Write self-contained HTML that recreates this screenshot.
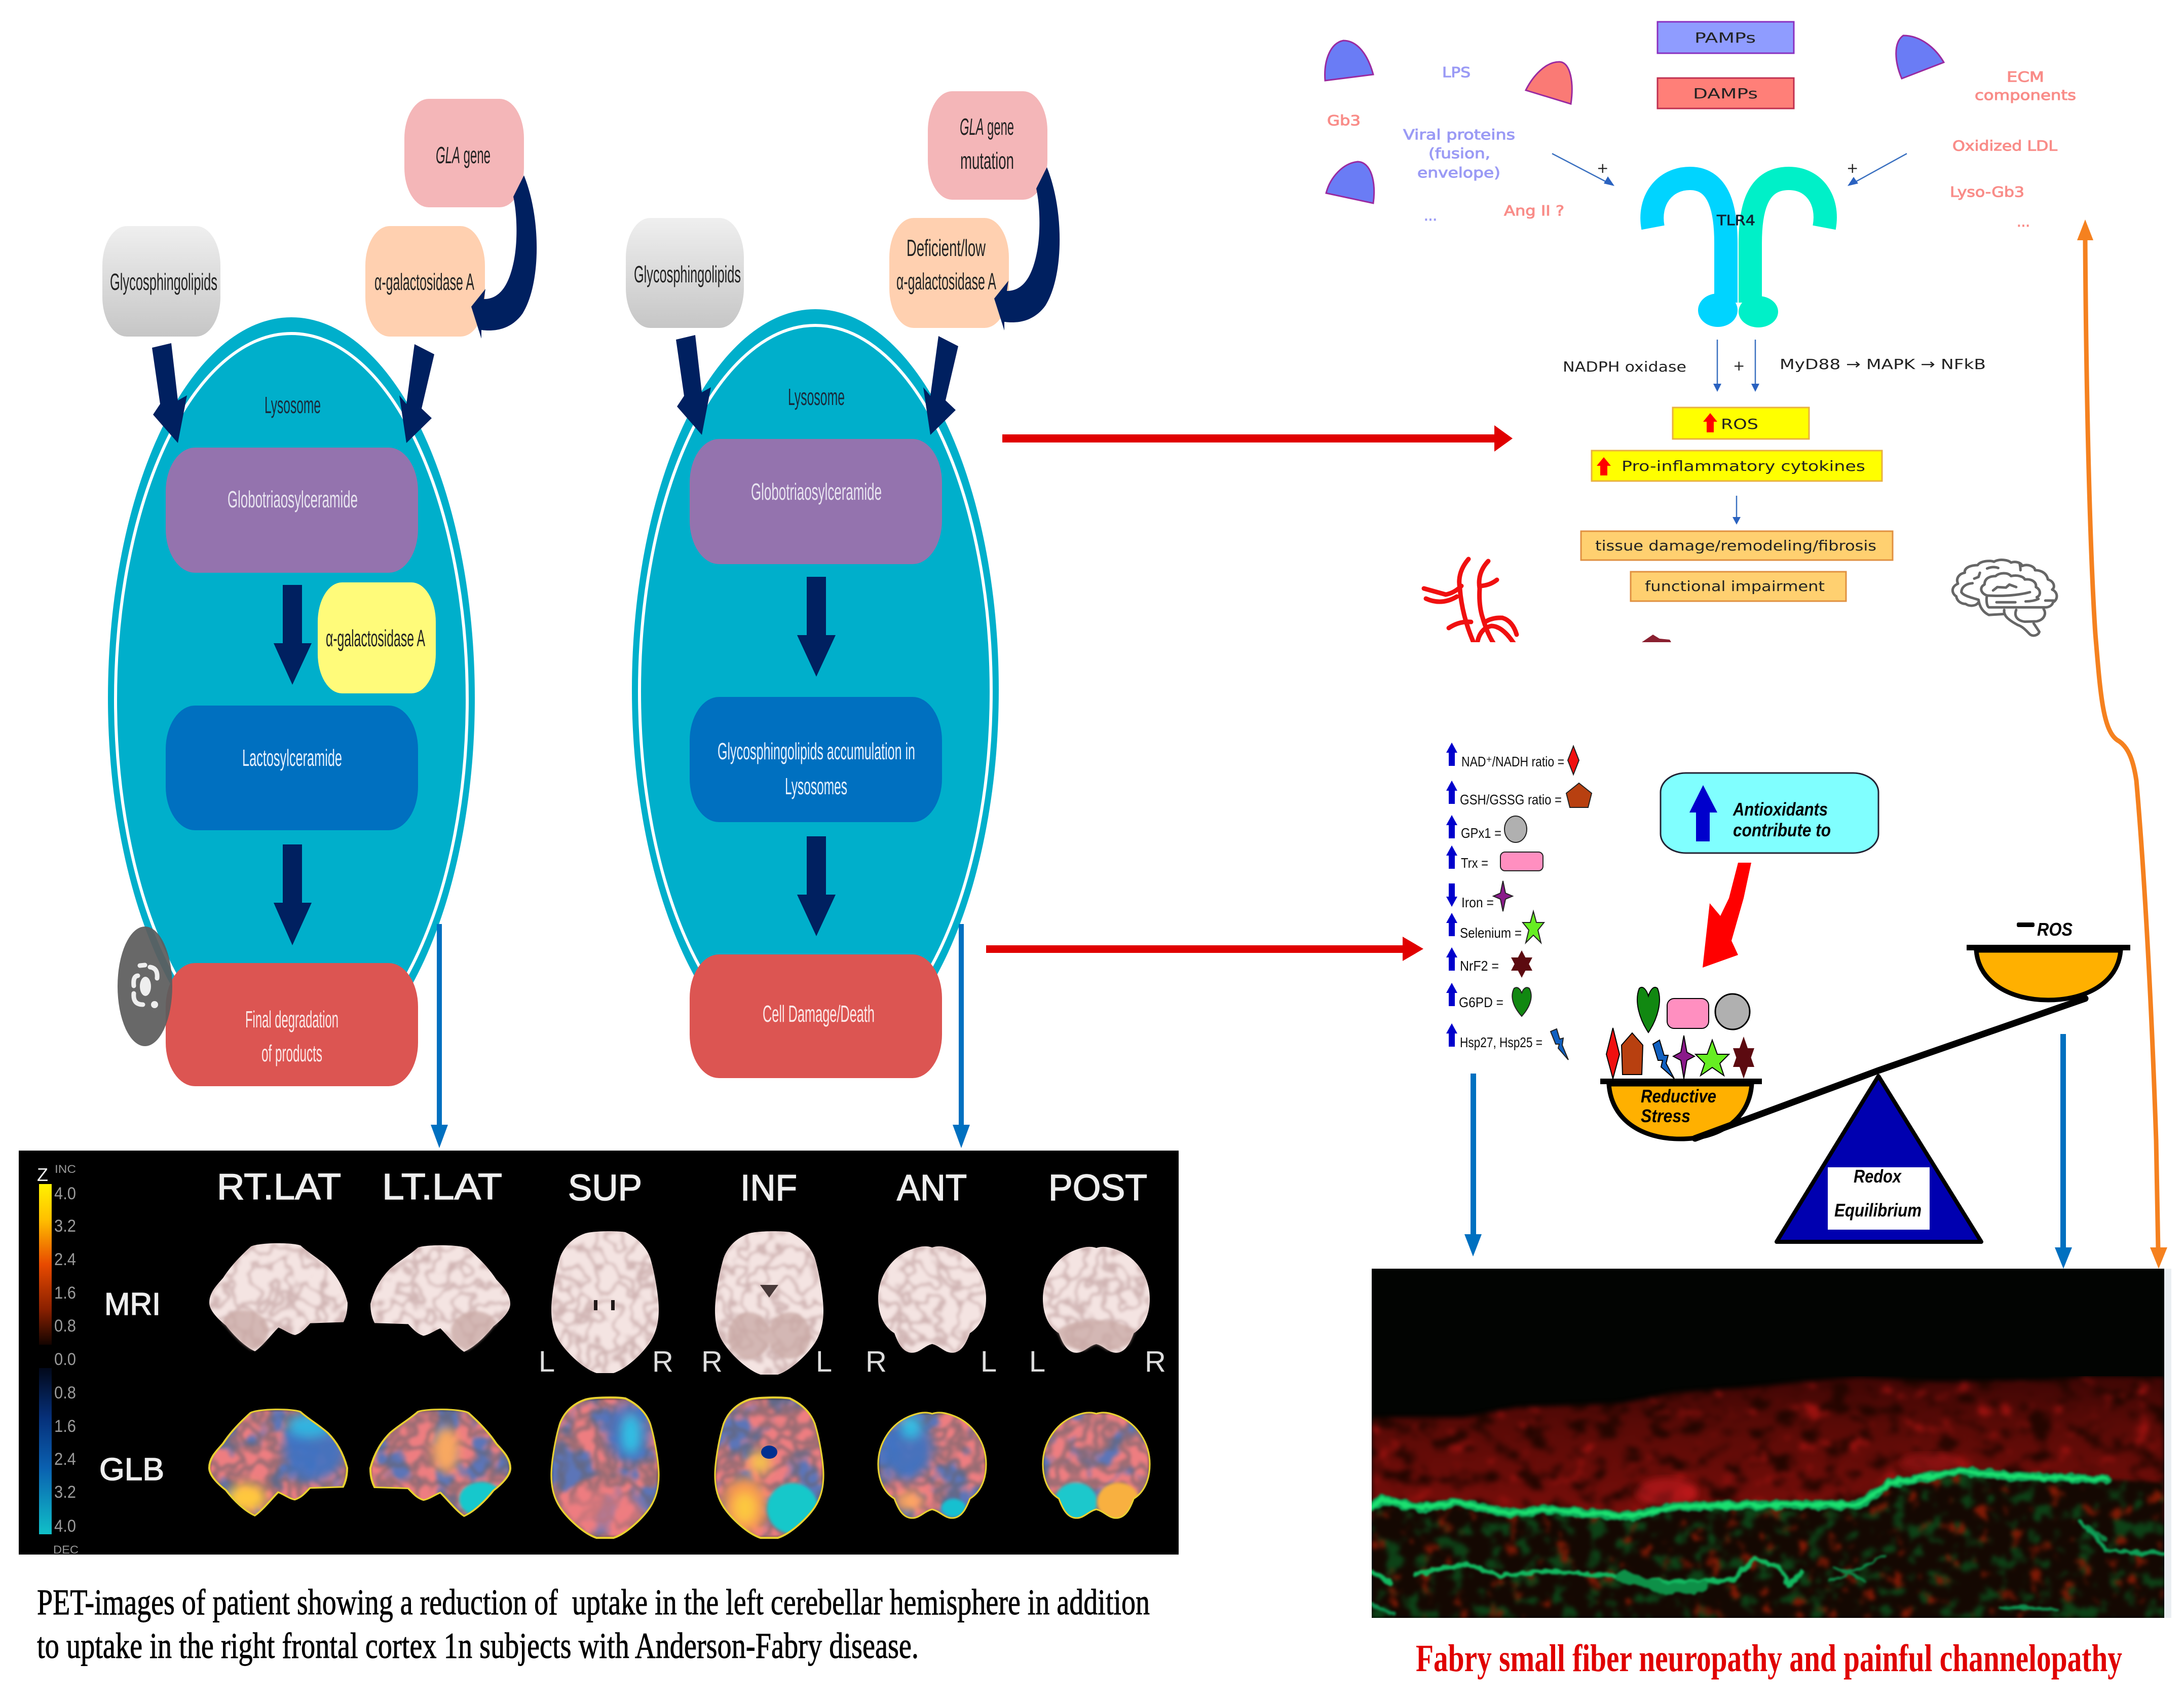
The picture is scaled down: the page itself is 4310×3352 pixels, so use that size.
<!DOCTYPE html>
<html><head><meta charset="utf-8"><title>Fabry disease diagram</title>
<style>
html,body{margin:0;padding:0;background:#fff}
svg{display:block}
.c{font-family:"Liberation Sans",sans-serif;font-size:46px}
.d{font-family:"DejaVu Sans",sans-serif;font-size:28px}
.a{font-family:"Liberation Sans",sans-serif;font-size:28px;fill:#111}
.bi{font-family:"Liberation Sans",sans-serif;font-weight:bold;font-style:italic;font-size:36px;fill:#000}
.p{font-family:"Liberation Sans",sans-serif;fill:#eee;font-size:72px;stroke:#eee;stroke-width:1.6}
.n{font-family:"Liberation Sans",sans-serif;fill:#9a9a9a;font-size:34px}
.lr{font-family:"Liberation Sans",sans-serif;fill:#ddd;font-size:58px;text-anchor:middle}
.s{font-family:"Liberation Serif",serif}
</style></head><body>
<svg xmlns="http://www.w3.org/2000/svg" width="4310" height="3352" viewBox="0 0 4310 3352">
<defs>
<linearGradient id="gray" x1="0" y1="0" x2="0" y2="1"><stop offset="0" stop-color="#efefef"/><stop offset="1" stop-color="#c6c6c6"/></linearGradient>
<linearGradient id="hot" x1="0" y1="0" x2="0" y2="1"><stop offset="0" stop-color="#fff200"/><stop offset=".22" stop-color="#ffc000"/><stop offset=".5" stop-color="#e84a00"/><stop offset=".78" stop-color="#8a2000"/><stop offset="1" stop-color="#140400"/></linearGradient>
<linearGradient id="cold" x1="0" y1="0" x2="0" y2="1"><stop offset="0" stop-color="#02081a"/><stop offset=".3" stop-color="#06307a"/><stop offset=".6" stop-color="#0a60b0"/><stop offset="1" stop-color="#10c0c8"/></linearGradient>
<linearGradient id="epi" x1="0" y1="2715" x2="0" y2="3000" gradientUnits="userSpaceOnUse"><stop offset="0" stop-color="#3e0604"/><stop offset=".35" stop-color="#5a0a06"/><stop offset="1" stop-color="#7a0e0a"/></linearGradient>
<path id="ua" d="M0,0 L11,20 L6,20 L6,46 L-6,46 L-6,20 L-11,20 Z" fill="#0000cc"/>
<path id="lat" d="M30,3 C36,-1 60,-1 66,2 C72,9 80,15 86,22 C92,30 97,40 100,55 C100,62 99,68 97,73 L73,74 C70,78 67,83 62,85 C58,84 54,80 50,78 C46,83 38,96 33,100 C26,96 18,86 12,76 C6,70 0,62 0,55 C0,45 6,38 10,32 C16,20 24,10 30,3 Z"/>
<path id="top" d="M31,1 C38,-1 62,-1 69,0 C80,4 88,10 92,18 C96,28 100,45 100,55 C100,65 97,72 92,78 C85,86 70,97 58,100 L42,100 C30,97 15,86 8,78 C3,72 0,65 0,55 C0,45 4,28 8,18 C12,10 20,4 31,1 Z"/>
<path id="cor" d="M50,1 C56,-1 62,0 70,3 C88,10 100,28 100,48 C100,62 95,74 85,80 C82,88 78,97 70,98 C62,99 58,92 50,90 C42,92 38,99 30,98 C22,97 18,88 15,80 C5,74 0,62 0,48 C0,28 12,10 30,3 C38,0 44,-1 50,1 Z"/>
<clipPath id="c1"><use href="#lat" transform="translate(413,2781) scale(2.72,2.09)"/></clipPath>
<clipPath id="c2"><use href="#lat" transform="translate(1007,2781) scale(-2.76,2.1)"/></clipPath>
<clipPath id="c3"><use href="#top" transform="translate(1088,2759) scale(2.12,2.75)"/></clipPath>
<clipPath id="c4"><use href="#top" transform="translate(1411,2759) scale(2.14,2.75)"/></clipPath>
<clipPath id="c5"><use href="#cor" transform="translate(1733,2787) scale(2.13,2.12)"/></clipPath>
<clipPath id="c6"><use href="#cor" transform="translate(2058,2787) scale(2.11,2.12)"/></clipPath>
<clipPath id="m1"><use href="#lat" transform="translate(413,2453) scale(2.73,2.13)"/></clipPath>
<clipPath id="m2"><use href="#lat" transform="translate(1007,2457) scale(-2.76,2.1)"/></clipPath>
<clipPath id="m4"><use href="#top" transform="translate(1411,2431) scale(2.14,2.81)"/></clipPath>
<clipPath id="m5"><use href="#cor" transform="translate(1733,2459) scale(2.13,2.14)"/></clipPath>
<clipPath id="m6"><use href="#cor" transform="translate(2058,2460) scale(2.11,2.13)"/></clipPath>
<clipPath id="sk"><rect x="2707" y="2503" width="1564" height="689"/></clipPath>
<clipPath id="vc"><rect x="2780" y="1090" width="240" height="177"/></clipPath>
<filter id="mri" x="0" y="0" width="100%" height="100%" color-interpolation-filters="sRGB">
<feTurbulence type="fractalNoise" baseFrequency="0.028" numOctaves="2" seed="5" result="n"/>
<feColorMatrix in="n" type="matrix" values="0 0 0 0 .66 0 0 0 0 .5 0 0 0 0 .5 1 0 0 0 0" result="a"/>
<feComponentTransfer in="a" result="b"><feFuncA type="table" tableValues="0 0 0 0 0 0 0 0 0 .2 .5 .2 0 0 0 0 0 0 0 0 0"/></feComponentTransfer>
<feGaussianBlur in="b" stdDeviation="2.8" result="c"/>
<feComposite in="c" in2="SourceAlpha" operator="in" result="t"/>
<feMerge><feMergeNode in="SourceGraphic"/><feMergeNode in="t"/></feMerge>
</filter>
<filter id="pet" x="0" y="0" width="100%" height="100%" color-interpolation-filters="sRGB">
<feTurbulence type="fractalNoise" baseFrequency="0.014" numOctaves="3" seed="9" result="n1"/>
<feColorMatrix in="n1" type="matrix" values="0 0 0 0 .36 0 0 0 0 .46 0 0 0 0 .72 7 0 0 0 -3.5" result="bl"/>
<feTurbulence type="fractalNoise" baseFrequency="0.028" numOctaves="2" seed="5" result="n2"/>
<feColorMatrix in="n2" type="matrix" values="0 0 0 0 .4 0 0 0 0 .38 0 0 0 0 .42 1 0 0 0 0" result="a"/>
<feComponentTransfer in="a" result="dk"><feFuncA type="table" tableValues="0 0 0 0 0 .35 .65 .35 0 0 0 0 0"/></feComponentTransfer>
<feMerge result="m"><feMergeNode in="SourceGraphic"/><feMergeNode in="bl"/><feMergeNode in="dk"/></feMerge>
<feComposite in="m" in2="SourceAlpha" operator="in" result="r"/>
<feGaussianBlur in="r" stdDeviation="3"/>
</filter>
<filter id="bl12" x="-40%" y="-40%" width="180%" height="180%"><feGaussianBlur stdDeviation="10"/></filter>
<filter id="bl4" x="-20%" y="-20%" width="140%" height="140%"><feGaussianBlur stdDeviation="3"/></filter>
<filter id="ep" x="0" y="0" width="100%" height="100%" color-interpolation-filters="sRGB">
<feTurbulence type="fractalNoise" baseFrequency="0.02 0.03" numOctaves="4" seed="12" result="n"/>
<feColorMatrix in="n" type="matrix" values="0 0 0 0 .62 0 0 0 0 .07 0 0 0 0 .06 5 0 0 0 -3.1" result="b"/>
<feColorMatrix in="n" type="matrix" values="0 0 0 0 .14 0 0 0 0 .02 0 0 0 0 0 0 5 0 0 -2.5" result="k"/>
<feMerge result="m"><feMergeNode in="SourceGraphic"/><feMergeNode in="k"/><feMergeNode in="b"/></feMerge>
<feComposite in="m" in2="SourceAlpha" operator="in" result="r"/>
<feGaussianBlur in="r" stdDeviation="5"/>
</filter>
<filter id="de" x="0" y="0" width="100%" height="100%" color-interpolation-filters="sRGB">
<feTurbulence type="fractalNoise" baseFrequency="0.03" numOctaves="4" seed="3" result="n"/>
<feColorMatrix in="n" type="matrix" values="0 0 0 0 .5 0 0 0 0 .1 0 0 0 0 .02 6 0 0 0 -3.7" result="b"/>
<feColorMatrix in="n" type="matrix" values="0 0 0 0 .05 0 0 0 0 .26 0 0 0 0 .09 0 6 0 0 -3.2" result="k"/>
<feMerge result="m"><feMergeNode in="SourceGraphic"/><feMergeNode in="k"/><feMergeNode in="b"/></feMerge>
<feComposite in="m" in2="SourceAlpha" operator="in" result="r"/>
<feGaussianBlur in="r" stdDeviation="4"/>
</filter>
<filter id="gl" x="-5%" y="-30%" width="110%" height="160%" color-interpolation-filters="sRGB">
<feTurbulence type="fractalNoise" baseFrequency="0.05" numOctaves="2" seed="8" result="n"/>
<feDisplacementMap in="SourceGraphic" in2="n" scale="14" xChannelSelector="R" yChannelSelector="G"/>
<feGaussianBlur stdDeviation="2"/>
</filter>
<filter id="soft" x="-10%" y="-10%" width="120%" height="120%"><feGaussianBlur stdDeviation="7"/></filter>
</defs>

<rect width="4310" height="3352" fill="#fff"/>

<!-- LEFT LYSOSOME -->
<ellipse cx="575" cy="1377" rx="362" ry="751" fill="#00afcb"/>
<ellipse cx="575" cy="1380" rx="347" ry="722" fill="none" stroke="#fff" stroke-width="6"/>
<rect x="798" y="195" width="236" height="214" rx="48" ry="78" fill="#f4b6b8"/>
<rect x="721" y="446" width="236" height="218" rx="48" ry="78" fill="#ffd0b0"/>
<rect x="202" y="446" width="233" height="218" rx="48" ry="78" fill="url(#gray)"/>
<rect x="327" y="883" width="498" height="247" rx="58" ry="86" fill="#9473ae"/>
<rect x="327" y="1392" width="498" height="246" rx="58" ry="86" fill="#0070c0"/>
<rect x="327" y="1900" width="498" height="243" rx="58" ry="86" fill="#dc5552"/>
<rect x="627" y="1149" width="233" height="219" rx="48" ry="78" fill="#fffb7a"/>
<text class="c" x="860" y="322" textLength="108" lengthAdjust="spacingAndGlyphs" fill="#222"><tspan font-style="italic">GLA</tspan> gene</text>
<text class="c" x="739" y="572" textLength="197" lengthAdjust="spacingAndGlyphs" fill="#222">α-galactosidase A</text>
<text class="c" x="217" y="572" textLength="212" lengthAdjust="spacingAndGlyphs" fill="#222">Glycosphingolipids</text>
<text class="c" x="522" y="815" textLength="111" lengthAdjust="spacingAndGlyphs" fill="#1a2a3a">Lysosome</text>
<text class="c" x="449" y="1001" textLength="257" lengthAdjust="spacingAndGlyphs" fill="#e8e4f0">Globotriaosylceramide</text>
<text class="c" x="643" y="1275" textLength="196" lengthAdjust="spacingAndGlyphs" fill="#222">α-galactosidase A</text>
<text class="c" x="478" y="1511" textLength="197" lengthAdjust="spacingAndGlyphs" fill="#e6f2ff">Lactosylceramide</text>
<text class="c" x="484" y="2027" textLength="184" lengthAdjust="spacingAndGlyphs" fill="#fbe8e8">Final degradation</text>
<text class="c" x="516" y="2094" textLength="120" lengthAdjust="spacingAndGlyphs" fill="#fbe8e8">of products</text>

<g fill="#002060">
<path d="M558,1154 H596 V1269 H615 L577,1351 L540,1269 H558 Z"/>
<path d="M558,1666 H596 V1781 H615 L577,1865 L540,1781 H558 Z"/>
<path id="al" d="M300,686 L338,677 L351,790 L369,780 L351,874 L302,818 L316,797 Z"/>
<path id="ar" d="M818,679 L857,699 L832,806 L852,825 L802,874 L788,780 L802,797 Z"/>
<path id="cv" d="M1034,346 C1068,430 1068,560 1031,619 C1010,648 980,655 950,651 L950,668 L930,605 L958,570 L955,590 C985,590 1005,565 1015,510 C1022,470 1020,420 1013,388 Z"/>
</g>
<ellipse cx="286" cy="1946" rx="54" ry="118" fill="#5c5c5c" opacity=".93"/>
<g fill="none" stroke="#eee" stroke-width="9" stroke-linecap="round">
<path d="M272,1925 Q262,1926 264,1945 M296,1908 Q312,1910 310,1930 M264,1960 Q262,1982 282,1982 M276,1905 L286,1904"/>
</g>
<ellipse cx="287" cy="1946" rx="11" ry="19" fill="#eee"/><circle cx="305" cy="1982" r="7" fill="#eee"/>

<!-- RIGHT LYSOSOME -->
<ellipse cx="1609" cy="1361" rx="362" ry="751" fill="#00afcb"/>
<ellipse cx="1609" cy="1364" rx="347" ry="722" fill="none" stroke="#fff" stroke-width="6"/>
<rect x="1831" y="180" width="236" height="214" rx="48" ry="78" fill="#f4b6b8"/>
<rect x="1755" y="430" width="236" height="217" rx="48" ry="78" fill="#ffd0b0"/>
<rect x="1235" y="430" width="233" height="217" rx="48" ry="78" fill="url(#gray)"/>
<rect x="1361" y="866" width="498" height="247" rx="58" ry="86" fill="#9473ae"/>
<rect x="1361" y="1375" width="498" height="247" rx="58" ry="86" fill="#0070c0"/>
<rect x="1361" y="1883" width="498" height="244" rx="58" ry="86" fill="#dc5552"/>
<text class="c" x="1894" y="266" textLength="107" lengthAdjust="spacingAndGlyphs" fill="#222"><tspan font-style="italic">GLA</tspan> gene</text>
<text class="c" x="1895" y="333" textLength="106" lengthAdjust="spacingAndGlyphs" fill="#222">mutation</text>
<text class="c" x="1789" y="505" textLength="156" lengthAdjust="spacingAndGlyphs" fill="#222">Deficient/low</text>
<text class="c" x="1769" y="571" textLength="197" lengthAdjust="spacingAndGlyphs" fill="#222">α-galactosidase A</text>
<text class="c" x="1251" y="557" textLength="211" lengthAdjust="spacingAndGlyphs" fill="#222">Glycosphingolipids</text>
<text class="c" x="1555" y="799" textLength="112" lengthAdjust="spacingAndGlyphs" fill="#1a2a3a">Lysosome</text>
<text class="c" x="1482" y="986" textLength="258" lengthAdjust="spacingAndGlyphs" fill="#e8e4f0">Globotriaosylceramide</text>
<text class="c" x="1416" y="1498" textLength="390" lengthAdjust="spacingAndGlyphs" fill="#e6f2ff">Glycosphingolipids accumulation in</text>
<text class="c" x="1549" y="1567" textLength="123" lengthAdjust="spacingAndGlyphs" fill="#e6f2ff">Lysosomes</text>
<text class="c" x="1505" y="2016" textLength="221" lengthAdjust="spacingAndGlyphs" fill="#fbe8e8">Cell Damage/Death</text>
<g fill="#002060">
<path d="M1592,1138 H1630 V1253 H1649 L1611,1335 L1573,1253 H1592 Z"/>
<path d="M1592,1650 H1630 V1765 H1649 L1611,1847 L1573,1765 H1592 Z"/>
<use href="#al" transform="translate(1034,-16)"/>
<use href="#ar" transform="translate(1034,-16)"/>
<use href="#cv" transform="translate(1032,-16)"/>
</g>

<!-- PET arrows -->
<g fill="#0070c0">
<rect x="862" y="1823" width="10" height="400"/><path d="M850,2219 H884 L867,2265 Z"/>
<rect x="1892" y="1823" width="10" height="400"/><path d="M1880,2219 H1914 L1897,2265 Z"/>
<rect x="2902" y="2118" width="11" height="320"/><path d="M2890,2435 H2924 L2907,2479 Z"/>
<rect x="4066" y="2040" width="11" height="425"/><path d="M4055,2461 H4089 L4072,2503 Z"/>
</g>

<!-- Red connectors -->
<g fill="#e00000">
<rect x="1978" y="857" width="975" height="16"/><path d="M2949,839 L2985,865 L2949,891 Z"/>
<rect x="1946" y="1865" width="825" height="15"/><path d="M2768,1848 L2809,1872 L2768,1896 Z"/>
</g>

<!-- Orange -->
<path d="M4115,470 C4117,800 4125,1100 4135,1250 C4145,1370 4150,1440 4178,1460 C4200,1472 4210,1500 4216,1540 C4230,1700 4245,1950 4255,2250 L4259,2465" fill="none" stroke="#f5811f" stroke-width="9"/>
<path d="M4115,433 L4131,474 H4099 Z" fill="#f5811f"/>
<path d="M4260,2503 L4243,2461 H4277 Z" fill="#f5811f"/>

<!-- TLR4 panel -->
<rect x="3271" y="43" width="269" height="62" fill="#8f9cff" stroke="#8a30c0" stroke-width="3"/>
<rect x="3271" y="154" width="269" height="60" fill="#ff7f78" stroke="#c03050" stroke-width="3"/>
<text class="d" x="3344" y="84" textLength="121" lengthAdjust="spacingAndGlyphs" font-size="30" fill="#222">PAMPs</text>
<text class="d" x="3341" y="194" textLength="128" lengthAdjust="spacingAndGlyphs" fill="#222">DAMPs</text>
<g stroke="#9a2aa0" stroke-width="3">
<path d="M2615,159 L2710,147 C2700,110 2680,80 2651,80 C2625,85 2612,120 2615,159 Z" fill="#6a7cf5"/>
<path d="M3011,178 L3100,205 C3106,165 3100,122 3077,122 C3050,122 3025,150 3011,178 Z" fill="#fa7a75"/>
<path d="M2617,381 L2710,401 C2716,360 2706,319 2679,319 C2650,322 2625,350 2617,381 Z" fill="#6a7cf5"/>
<path d="M3753,155 L3836,123 C3820,95 3790,70 3756,70 C3735,85 3740,125 3753,155 Z" fill="#6a7cf5"/>
</g>
<g class="d" fill="#9a9af5" stroke="#9a9af5" stroke-width="1">
<text x="2846" y="152" textLength="56" lengthAdjust="spacingAndGlyphs">LPS</text>
<text x="2769" y="275" textLength="221" lengthAdjust="spacingAndGlyphs">Viral proteins</text>
<text x="2819" y="312" textLength="122" lengthAdjust="spacingAndGlyphs">(fusion,</text>
<text x="2797" y="350" textLength="164" lengthAdjust="spacingAndGlyphs">envelope)</text>
<text x="2810" y="435" textLength="26" lengthAdjust="spacingAndGlyphs">...</text>
</g>
<g class="d" fill="#f98c88" stroke="#f98c88" stroke-width="1">
<text x="2619" y="247" textLength="66" lengthAdjust="spacingAndGlyphs">Gb3</text>
<text x="2968" y="425" textLength="119" lengthAdjust="spacingAndGlyphs">Ang II ?</text>
<text x="3960" y="161" textLength="74" lengthAdjust="spacingAndGlyphs">ECM</text>
<text x="3897" y="197" textLength="200" lengthAdjust="spacingAndGlyphs">components</text>
<text x="3853" y="297" textLength="207" lengthAdjust="spacingAndGlyphs">Oxidized LDL</text>
<text x="3848" y="388" textLength="147" lengthAdjust="spacingAndGlyphs">Lyso-Gb3</text>
<text x="3980" y="447" textLength="26" lengthAdjust="spacingAndGlyphs">...</text>
</g>
<g stroke="#3a70c0" stroke-width="2.5" fill="none">
<path d="M3063,303 L3180,364"/><path d="M3763,303 L3652,364"/>
<path d="M3389,670 V765"/><path d="M3464,670 V765"/><path d="M3427,978 V1028"/>
</g>
<g fill="#2a62c0">
<path d="M3186,367 L3165,362 L3173,348 Z"/><path d="M3646,367 L3658,349 L3667,362 Z"/>
<path d="M3389,773 L3381,757 H3397 Z"/><path d="M3464,773 L3456,757 H3472 Z"/><path d="M3427,1035 L3419,1020 H3435 Z"/>
</g>
<g class="d" fill="#222" font-size="26">
<text x="3151" y="341">+</text><text x="3644" y="341">+</text><text x="3420" y="731">+</text>
</g>
<path d="M3406,597 V480 C3406,420 3396,352 3335,352 C3285,352 3252,395 3262,449" fill="none" stroke="#00d4ff" stroke-width="46"/>
<path d="M3454,597 V480 C3454,420 3464,352 3530,352 C3580,352 3610,395 3600,449" fill="none" stroke="#00f0c8" stroke-width="46"/>
<ellipse cx="3390" cy="612" rx="39" ry="33" fill="#00d4ff"/>
<ellipse cx="3470" cy="615" rx="39" ry="31" fill="#00f0c8"/>
<text class="d" x="3388" y="444" textLength="76" lengthAdjust="spacingAndGlyphs" fill="#123" stroke="#123" stroke-width=".7">TLR4</text>
<text class="d" x="3084" y="733" textLength="244" lengthAdjust="spacingAndGlyphs" fill="#222">NADPH oxidase</text>
<text class="d" x="3512" y="728" textLength="407" lengthAdjust="spacingAndGlyphs" fill="#222">MyD88 → MAPK → NFkB</text>
<rect x="3301" y="804" width="269" height="62" fill="#ffff00" stroke="#e8b040" stroke-width="3"/>
<path d="M3375,815 L3389,832 H3382 V853 H3368 V832 H3361 Z" fill="#f00"/>
<text class="d" x="3396" y="846" textLength="74" lengthAdjust="spacingAndGlyphs" fill="#222">ROS</text>
<rect x="3141" y="889" width="573" height="60" fill="#ffff00" stroke="#e8b040" stroke-width="3"/>
<path d="M3165,902 L3179,919 H3172 V938 H3158 V919 H3151 Z" fill="#f00"/>
<text class="d" x="3200" y="929" textLength="481" lengthAdjust="spacingAndGlyphs" fill="#222">Pro-inflammatory cytokines</text>
<rect x="3120" y="1048" width="615" height="57" fill="#ffd070" stroke="#e09040" stroke-width="3"/>
<text class="d" x="3148" y="1086" textLength="555" lengthAdjust="spacingAndGlyphs" fill="#222">tissue damage/remodeling/fibrosis</text>
<rect x="3218" y="1128" width="425" height="58" fill="#ffd070" stroke="#e09040" stroke-width="3"/>
<text class="d" x="3246" y="1166" textLength="355" lengthAdjust="spacingAndGlyphs" fill="#222">functional impairment</text>
<g clip-path="url(#vc)" fill="none" stroke="#f01010" stroke-width="9" stroke-linecap="round">
<path d="M2898,1103 Q2875,1130 2881,1161 Q2885,1215 2909,1270"/>
<path d="M2937,1107 Q2915,1130 2920,1161 Q2918,1195 2926,1219 Q2935,1250 2948,1270"/>
<path d="M2810,1161 L2853,1173 Q2870,1170 2884,1156"/>
<path d="M2814,1181 Q2845,1195 2875,1177"/>
<path d="M2954,1144 Q2940,1155 2922,1156"/>
<path d="M2859,1239 Q2880,1225 2903,1227"/>
<path d="M2993,1252 Q2985,1225 2965,1219 Q2945,1218 2931,1227"/>
<path d="M2988,1270 Q2965,1235 2943,1235 Q2920,1240 2915,1270"/>
</g>
<path d="M3240,1267 L3262,1252 L3275,1260 L3295,1262 L3298,1267 Z" fill="#8a2030"/>
<g transform="translate(3820,1080) scale(.338,.333)" fill="none" stroke="#666" stroke-width="15" stroke-linecap="round" stroke-linejoin="round">
<path d="M250,325 C235,350 195,350 175,335 C150,335 125,320 120,290 C95,275 85,235 130,215 C115,180 140,155 170,150 C165,120 205,105 245,105 C260,80 320,75 340,85 C375,65 425,75 440,90 C465,80 500,90 505,110 C540,95 580,115 580,135 C625,135 650,160 655,190 C690,200 700,235 680,250 C715,265 715,310 685,325 C680,345 660,355 640,355 L310,355 C295,345 295,300 300,285"/>
<path d="M300,285 C260,270 255,235 285,220 C285,180 320,170 350,170 C370,150 420,145 440,170 C480,160 515,175 520,190 C560,185 590,205 585,235 C615,250 615,285 590,295"/>
<path d="M550,265 C480,285 380,290 300,285"/>
<path d="M335,255 L360,235 L410,238 L430,220 L470,235"/>
<path d="M355,325 H465"/><path d="M525,320 Q570,320 600,305"/><path d="M640,315 H690"/>
<path d="M225,185 L250,175 L258,150"/><path d="M300,125 Q335,110 365,122"/><path d="M490,95 Q495,115 495,135"/>
<path d="M215,212 C170,215 150,240 150,265 C160,285 200,295 250,310 C255,345 270,380 310,400 L395,395"/>
<path d="M400,370 C395,405 425,430 480,460 C510,470 530,495 550,515 C570,530 600,520 605,500 L572,450"/>
<path d="M470,370 C455,410 480,435 520,440 L590,438 C630,430 650,395 630,365"/>
</g>

<!-- Redox list -->
<use href="#ua" x="2865" y="1465"/><use href="#ua" x="2865" y="1540"/><use href="#ua" x="2865" y="1608"/><use href="#ua" x="2865" y="1668"/>
<use href="#ua" transform="translate(2865,1789) scale(1,-1)"/>
<use href="#ua" x="2865" y="1801"/><use href="#ua" x="2865" y="1869"/><use href="#ua" x="2865" y="1939"/><use href="#ua" x="2865" y="2019"/>
<text class="a" x="2884" y="1512" textLength="203" lengthAdjust="spacingAndGlyphs">NAD⁺/NADH ratio =</text>
<text class="a" x="2881" y="1587" textLength="201" lengthAdjust="spacingAndGlyphs">GSH/GSSG ratio =</text>
<text class="a" x="2883" y="1653" textLength="80" lengthAdjust="spacingAndGlyphs">GPx1 =</text>
<text class="a" x="2883" y="1712" textLength="54" lengthAdjust="spacingAndGlyphs">Trx =</text>
<text class="a" x="2884" y="1790" textLength="64" lengthAdjust="spacingAndGlyphs">Iron =</text>
<text class="a" x="2881" y="1850" textLength="122" lengthAdjust="spacingAndGlyphs">Selenium =</text>
<text class="a" x="2881" y="1915" textLength="77" lengthAdjust="spacingAndGlyphs">NrF2 =</text>
<text class="a" x="2879" y="1987" textLength="88" lengthAdjust="spacingAndGlyphs">G6PD =</text>
<text class="a" x="2881" y="2066" textLength="163" lengthAdjust="spacingAndGlyphs">Hsp27, Hsp25 =</text>
<g stroke="#222" stroke-width="2">
<path d="M3105,1472 L3116,1500 L3105,1528 L3094,1500 Z" fill="#f01010"/>
<path d="M3116,1545 L3141,1565 L3134,1593 L3098,1593 L3091,1565 Z" fill="#b84010"/>
<ellipse cx="2991" cy="1636" rx="22" ry="26" fill="#b0b0b0"/>
<rect x="2961" y="1681" width="84" height="37" rx="9" fill="#ff8fc0"/>
<path d="M2966,1738 L2971,1762 L2985,1768 L2971,1774 L2966,1798 L2961,1774 L2947,1768 L2961,1762 Z" fill="#8a1a8a"/>
<path d="M3026,1798 L3032,1820 L3047,1820 L3035,1835 L3041,1860 L3026,1845 L3011,1860 L3017,1835 L3005,1820 L3020,1820 Z" fill="#66ee22"/>
<path d="M3003,1875 L3024,1915 H2982 Z" fill="#5c0a10" stroke="none"/><path d="M3003,1929 L3024,1889 H2982 Z" fill="#5c0a10" stroke="none"/>
<path d="M3003,2005 C2985,1985 2980,1965 2988,1950 C2995,1945 3001,1952 3003,1960 C3005,1952 3011,1945 3018,1950 C3026,1965 3021,1985 3003,2005 Z" fill="#118811"/>
<path d="M3060,2035 L3072,2030 L3078,2050 L3085,2048 L3083,2062 L3095,2091 L3075,2068 L3077,2060 L3070,2060 Z" fill="#1060c0"/>
</g>

<!-- Antioxidants -->
<rect x="3277" y="1525" width="430" height="158" rx="50" ry="38" fill="#80ffff" stroke="#223" stroke-width="3"/>
<path d="M3361,1549 L3389,1603 H3374 V1660 H3347 V1603 H3334 Z" fill="#0000cc"/>
<text class="bi" x="3420" y="1609" textLength="187" lengthAdjust="spacingAndGlyphs">Antioxidants</text>
<text class="bi" x="3420" y="1650" textLength="193" lengthAdjust="spacingAndGlyphs">contribute to</text>
<path d="M3430,1702 L3456,1702 L3441,1772 L3417,1856 L3430,1884 L3360,1909 L3374,1782 L3395,1807 L3412,1772 Z" fill="#ff0000"/>

<!-- Scale -->
<g stroke="#000" stroke-width="2">
<path d="M3253,2037 C3235,2010 3225,1975 3235,1950 C3243,1943 3250,1955 3253,1965 C3256,1955 3263,1943 3271,1950 C3281,1975 3271,2010 3253,2037 Z" fill="#118811"/>
<rect x="3290" y="1970" width="82" height="59" rx="14" fill="#ff8fc0"/>
<ellipse cx="3419" cy="1996" rx="34" ry="35" fill="#b0b0b0" stroke-width="3"/>
<path d="M3183,2028 L3196,2080 L3183,2128 L3170,2080 Z" fill="#f01010"/>
<path d="M3221,2038 L3242,2062 L3240,2120 H3202 L3200,2062 Z" fill="#b84010"/>
<path d="M3262,2060 L3275,2052 L3284,2082 L3292,2082 L3288,2098 L3304,2128 L3278,2105 L3281,2092 L3272,2092 Z" fill="#1060c0"/>
<path d="M3323,2043 L3329,2076 L3344,2084 L3329,2092 L3323,2128 L3317,2092 L3302,2084 L3317,2076 Z" fill="#8a1a8a"/>
<path d="M3379,2052 L3389,2080 L3412,2080 L3394,2098 L3402,2122 L3379,2106 L3356,2122 L3364,2098 L3346,2080 L3369,2080 Z" fill="#66ee22"/>
<path d="M3441,2045 L3462,2105 H3420 Z" fill="#5c0a10" stroke="none"/><path d="M3441,2128 L3462,2068 H3420 Z" fill="#5c0a10" stroke="none"/>
</g>
<path d="M3175,2139 C3180,2210 3240,2247 3316,2247 C3392,2247 3452,2210 3457,2139 Z" fill="#ffb000" stroke="#000" stroke-width="9"/>
<rect x="3158" y="2128" width="319" height="11" fill="#000"/>
<text class="bi" x="3238" y="2175" textLength="149" lengthAdjust="spacingAndGlyphs">Reductive</text>
<text class="bi" x="3238" y="2214" textLength="98" lengthAdjust="spacingAndGlyphs">Stress</text>
<path d="M3900,1875 C3905,1940 3970,1973 4042,1973 C4115,1973 4180,1940 4185,1875 Z" fill="#ffb000" stroke="#000" stroke-width="9"/>
<rect x="3881" y="1864" width="323" height="11" fill="#000"/>
<path d="M3345,2246 L3707,2112 L4115,1970" fill="none" stroke="#000" stroke-width="13" stroke-linecap="round" stroke-linejoin="round"/>
<path d="M3707,2123 L3910,2450 H3506 Z" fill="#0000b0" stroke="#000" stroke-width="8" stroke-linejoin="round"/>
<rect x="3607" y="2303" width="201" height="123" fill="#fff"/>
<text class="bi" x="3658" y="2333" textLength="94" lengthAdjust="spacingAndGlyphs">Redox</text>
<text class="bi" x="3620" y="2400" textLength="172" lengthAdjust="spacingAndGlyphs">Equilibrium</text>
<rect x="3980" y="1820" width="35" height="9" rx="3" fill="#000"/>
<text class="bi" x="4020" y="1846" textLength="70" lengthAdjust="spacingAndGlyphs">ROS</text>

<!-- PET panel -->
<rect x="37" y="2270" width="2289" height="797" fill="#000"/>
<rect x="77" y="2336" width="25" height="317" fill="url(#hot)"/>
<rect x="77" y="2699" width="25" height="328" fill="url(#cold)"/>
<text x="73" y="2330" font-family="Liberation Sans" font-size="36" fill="#eee">Z</text>
<text x="108" y="2314" font-family="Liberation Sans" font-size="22" fill="#999" textLength="42" lengthAdjust="spacingAndGlyphs">INC</text>
<text x="105" y="3065" font-family="Liberation Sans" font-size="22" fill="#999" textLength="50" lengthAdjust="spacingAndGlyphs">DEC</text>
<g class="n">
<text x="107" y="2366" textLength="43" lengthAdjust="spacingAndGlyphs">4.0</text>
<text x="107" y="2430" textLength="43" lengthAdjust="spacingAndGlyphs">3.2</text>
<text x="107" y="2496" textLength="43" lengthAdjust="spacingAndGlyphs">2.4</text>
<text x="107" y="2562" textLength="43" lengthAdjust="spacingAndGlyphs">1.6</text>
<text x="107" y="2627" textLength="43" lengthAdjust="spacingAndGlyphs">0.8</text>
<text x="107" y="2693" textLength="43" lengthAdjust="spacingAndGlyphs">0.0</text>
<text x="107" y="2759" textLength="43" lengthAdjust="spacingAndGlyphs">0.8</text>
<text x="107" y="2825" textLength="43" lengthAdjust="spacingAndGlyphs">1.6</text>
<text x="107" y="2890" textLength="43" lengthAdjust="spacingAndGlyphs">2.4</text>
<text x="107" y="2955" textLength="43" lengthAdjust="spacingAndGlyphs">3.2</text>
<text x="107" y="3022" textLength="43" lengthAdjust="spacingAndGlyphs">4.0</text>
</g>
<g class="p">
<text x="428" y="2366" textLength="245" lengthAdjust="spacingAndGlyphs">RT.LAT</text>
<text x="754" y="2366" textLength="237" lengthAdjust="spacingAndGlyphs">LT.LAT</text>
<text x="1121" y="2368" textLength="146" lengthAdjust="spacingAndGlyphs">SUP</text>
<text x="1461" y="2368" textLength="112" lengthAdjust="spacingAndGlyphs">INF</text>
<text x="1770" y="2368" textLength="138" lengthAdjust="spacingAndGlyphs">ANT</text>
<text x="2069" y="2368" textLength="195" lengthAdjust="spacingAndGlyphs">POST</text>
<text x="206" y="2594" textLength="111" lengthAdjust="spacingAndGlyphs" font-size="62">MRI</text>
<text x="196" y="2920" textLength="128" lengthAdjust="spacingAndGlyphs" font-size="62">GLB</text>
</g>
<g class="lr">
<text x="1079" y="2706">L</text><text x="1308" y="2706">R</text>
<text x="1405" y="2706">R</text><text x="1626" y="2706">L</text>
<text x="1729" y="2706">R</text><text x="1951" y="2706">L</text>
<text x="2047" y="2706">L</text><text x="2280" y="2706">R</text>
</g>
<!-- MRI brains -->
<g fill="#f4e4e2">
<g filter="url(#mri)"><use href="#lat" transform="translate(413,2453) scale(2.73,2.13)"/></g>
<g filter="url(#mri)"><use href="#lat" transform="translate(1007,2457) scale(-2.76,2.1)"/></g>
<g filter="url(#mri)"><use href="#top" transform="translate(1088,2431) scale(2.12,2.78)"/></g>
<g filter="url(#mri)"><use href="#top" transform="translate(1411,2431) scale(2.14,2.81)"/></g>
<g filter="url(#mri)"><use href="#cor" transform="translate(1733,2459) scale(2.13,2.14)"/></g>
<g filter="url(#mri)"><use href="#cor" transform="translate(2058,2460) scale(2.11,2.13)"/></g>
</g>
<g fill="#c9a9a4" opacity=".75" filter="url(#bl4)">
<g clip-path="url(#m1)"><ellipse cx="482" cy="2625" rx="48" ry="40"/></g>
<g clip-path="url(#m2)"><ellipse cx="938" cy="2627" rx="48" ry="40"/></g>
<g clip-path="url(#m4)"><ellipse cx="1478" cy="2635" rx="42" ry="46"/><ellipse cx="1558" cy="2635" rx="42" ry="46"/></g>
<g clip-path="url(#m6)"><ellipse cx="2163" cy="2635" rx="80" ry="30"/></g>
</g>
<path d="M1500,2535 L1536,2535 L1518,2560 Z" fill="#2a1c1c" opacity=".85"/>
<path d="M1172,2565 h7 v20 h-7 z M1206,2565 h7 v20 h-7 z" fill="#201818"/>
<!-- PET brains -->
<g clip-path="url(#c1)"><rect x="413" y="2781" width="272" height="209" fill="#ee7d80" filter="url(#pet)"/>
<g filter="url(#bl12)"><ellipse cx="620" cy="2855" rx="62" ry="68" fill="#3f72c4" opacity=".9"/><ellipse cx="610" cy="2813" rx="42" ry="22" fill="#30b4e0"/><ellipse cx="486" cy="2955" rx="38" ry="27" fill="#ffc83c"/></g></g>
<g clip-path="url(#c2)"><rect x="731" y="2781" width="276" height="210" fill="#ee7d80" filter="url(#pet)"/>
<ellipse cx="950" cy="2958" rx="44" ry="34" fill="#14c8cc" filter="url(#bl4)"/><ellipse cx="880" cy="2860" rx="26" ry="45" fill="#f8a860" filter="url(#bl12)"/></g>
<g clip-path="url(#c3)"><rect x="1088" y="2759" width="212" height="275" fill="#ee7d80" filter="url(#pet)"/>
<g filter="url(#bl12)"><ellipse cx="1240" cy="2825" rx="45" ry="58" fill="#3f72c4" opacity=".85"/><ellipse cx="1245" cy="2830" rx="18" ry="38" fill="#30c0e4"/><ellipse cx="1190" cy="2980" rx="80" ry="40" fill="#ee7d80" opacity=".6"/></g></g>
<g clip-path="url(#c4)"><rect x="1411" y="2759" width="214" height="275" fill="#ee7d80" filter="url(#pet)"/>
<g filter="url(#bl12)"><ellipse cx="1470" cy="2970" rx="44" ry="55" fill="#f89850"/><ellipse cx="1470" cy="2975" rx="22" ry="30" fill="#fcc840"/><ellipse cx="1500" cy="2885" rx="22" ry="22" fill="#f8c050"/></g>
<ellipse cx="1564" cy="2976" rx="50" ry="50" fill="#16c8ca" filter="url(#bl4)"/><ellipse cx="1518" cy="2865" rx="16" ry="13" fill="#003090"/></g>
<g clip-path="url(#c5)"><rect x="1733" y="2787" width="213" height="212" fill="#ee7d80" filter="url(#pet)"/>
<g filter="url(#bl12)"><ellipse cx="1790" cy="2858" rx="50" ry="60" fill="#3f72c4" opacity=".9"/><ellipse cx="1798" cy="2815" rx="18" ry="22" fill="#30c0e4"/><ellipse cx="1795" cy="2962" rx="26" ry="18" fill="#fca860"/></g><ellipse cx="1882" cy="2975" rx="24" ry="18" fill="#18c0d0" filter="url(#bl4)"/></g>
<g clip-path="url(#c6)"><rect x="2058" y="2787" width="211" height="212" fill="#ee7d80" filter="url(#pet)"/>
<ellipse cx="2123" cy="2963" rx="42" ry="38" fill="#1cc8cc" filter="url(#bl4)"/><ellipse cx="2207" cy="2963" rx="42" ry="38" fill="#f8b040" filter="url(#bl4)"/></g>
<g fill="none" stroke="#e8d030">
<use href="#lat" transform="translate(413,2781) scale(2.72,2.09)" stroke-width="1.5"/>
<use href="#lat" transform="translate(1007,2781) scale(-2.76,2.1)" stroke-width="1.5"/>
<use href="#top" transform="translate(1088,2759) scale(2.12,2.75)" stroke-width="1.5"/>
<use href="#top" transform="translate(1411,2759) scale(2.14,2.75)" stroke-width="1.5"/>
<use href="#cor" transform="translate(1733,2787) scale(2.13,2.12)" stroke-width="1.5"/>
<use href="#cor" transform="translate(2058,2787) scale(2.11,2.12)" stroke-width="1.5"/>
</g>

<!-- Captions -->
<g class="s" font-size="72" fill="#000" stroke="#000" stroke-width=".9">
<text x="73" y="3185" textLength="2196" lengthAdjust="spacingAndGlyphs" xml:space="preserve">PET-images of patient showing a reduction of  uptake in the left cerebellar hemisphere in addition</text>
<text x="73" y="3271" textLength="1740" lengthAdjust="spacingAndGlyphs">to uptake in the right frontal cortex 1n subjects with Anderson-Fabry disease.</text>
</g>
<text class="s" x="2794" y="3297" textLength="1394" lengthAdjust="spacingAndGlyphs" font-size="76" font-weight="bold" fill="#e00000">Fabry small fiber neuropathy and painful channelopathy</text>

<!-- Skin image -->
<rect x="4271" y="2503" width="14" height="689" fill="#eaeef2"/>
<rect x="2707" y="2503" width="1564" height="689" fill="#020402"/>
<g clip-path="url(#sk)">
<path d="M2707,2797 L2888,2797 L2992,2777 L3200,2769 L3304,2748 L3460,2737 L3564,2726 L3668,2717 L3824,2726 L4032,2723 L4136,2715 L4271,2717 V3010 L3668,3010 L3221,3030 L2707,3000 Z" fill="url(#epi)" filter="url(#ep)"/>
<path d="M2707,2972 L2727,2958 L2805,2975 L2878,2964 L2982,2987 L3044,2978 L3221,2992 L3304,2972 L3491,2969 L3668,2969 L3730,2926 L3876,2903 L3959,2912 L4157,2918 L4271,2925 V3192 H2707 Z" fill="#140802" filter="url(#de)"/>
<ellipse cx="3290" cy="2945" rx="60" ry="30" fill="#d01a20" opacity=".55" filter="url(#soft)"/>
<ellipse cx="3810" cy="2885" rx="60" ry="18" fill="#c81a20" opacity=".35" filter="url(#soft)"/>
<g fill="none" stroke-linecap="round" stroke-linejoin="round" filter="url(#gl)">
<path d="M2707,2972 L2727,2958 L2805,2975 L2878,2964 L2982,2987 L3044,2978 L3221,2992 L3304,2972 L3491,2969 L3668,2969 L3730,2926 L3876,2903 L3959,2912 L4157,2918" stroke="#0ca858" stroke-width="18"/>
<path d="M2707,2972 L2727,2958 L2805,2975 L2878,2964 L2982,2987 L3044,2978 L3221,2992 L3304,2972 L3491,2969 L3668,2969 L3730,2926 L3876,2903 L3959,2912 L4157,2918" stroke="#1ce070" stroke-width="8"/>
<path d="M2707,3100 L2745,3125 M2795,3105 L2895,3085 L2960,3110 L3050,3100 L3200,3110 L3290,3122 L3420,3118 L3460,3075 L3510,3090 L3530,3130 L3555,3100" stroke="#12b860" stroke-width="9"/>
<path d="M3200,3110 L3290,3135 L3360,3130" stroke="#0e9048" stroke-width="22"/>
<path d="M4105,3000 L4160,3060 L4271,3065" stroke="#0ea058" stroke-width="9"/>
<path d="M4120,3010 L4155,3040 M3610,3120 L3720,3070 M3620,3090 L3680,3120" stroke="#0e8848" stroke-width="6"/>
<path d="M2707,3165 L2750,3185 M3950,3170 L4060,3175" stroke="#0e9050" stroke-width="7"/>
</g>
</g>
</svg>
</body></html>
